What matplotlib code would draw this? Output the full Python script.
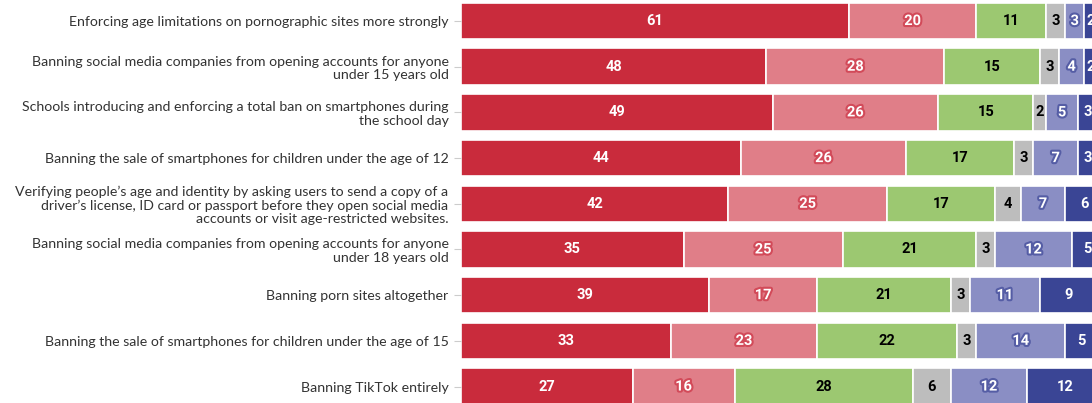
import numpy as np
import matplotlib.pyplot as plt
import matplotlib.patheffects as pe

# data
labels = [
    "Enforcing age limitations on pornographic sites more strongly",
    "Banning social media companies from opening accounts for anyone\nunder 15 years old",
    "Schools introducing and enforcing a total ban on smartphones during\nthe school day",
    "Banning the sale of smartphones for children under the age of 12",
    "Verifying people\u2019s age and identity by asking users to send a copy of a\ndriver\u2019s license, ID card or passport before they open social media\naccounts or visit age-restricted websites.",
    "Banning social media companies from opening accounts for anyone\nunder 18 years old",
    "Banning porn sites altogether",
    "Banning the sale of smartphones for children under the age of 15",
    "Banning TikTok entirely",
]
strongly_support = [61, 48, 49, 44, 42, 35, 39, 33, 27]
tend_support = [20, 28, 26, 26, 25, 25, 17, 23, 16]
neither = [11, 15, 15, 17, 17, 21, 21, 22, 28]
dont_know = [3, 3, 2, 3, 4, 3, 3, 3, 6]
tend_oppose = [3, 4, 5, 7, 7, 12, 11, 14, 12]
strongly_oppose = [2, 2, 3, 3, 6, 5, 9, 5, 12]

series = [strongly_support, tend_support, neither, dont_know, tend_oppose, strongly_oppose]
colors = ["#C92B3C", "#E07E88", "#9CC871", "#BDBDBD", "#8A8EC4", "#3A4595"]
txt_colors = ["white", "white", "black", "black", "white", "white"]
outlines = [None, "#D24A59", None, None, "#555DA5", None]

fig = plt.figure(figsize=(10.92, 4.03), dpi=100)
ax = fig.add_axes([461 / 1092, 0, 1 - 461 / 1092, 1])

y = np.arange(len(labels))
left = np.zeros(len(labels))
for vals, c, tc, ol in zip(series, colors, txt_colors, outlines):
    vals = np.array(vals)
    ax.barh(y, vals, left=left, height=0.8, color=c, edgecolor="white", linewidth=1.2)
    for yi, l, v in zip(y, left, vals):
        t = ax.text(l + v / 2, yi, str(v), ha="center", va="center", color=tc,
                    fontsize=10.5, fontweight="bold", family="Roboto")
        if ol:
            t.set_path_effects([pe.withStroke(linewidth=3, foreground=ol)])
    left += vals

ax.set_xlim(0, 99.2)
ax.set_ylim(8.36, -0.46)
ax.set_yticks(y)
ax.set_yticklabels(labels, fontsize=10.2, color="#333333", family="Lato", linespacing=1.15)
ax.tick_params(axis="y", length=5, color="#CCCCCC", pad=4)
ax.set_xticks([])
for s in ax.spines.values():
    s.set_visible(False)

fig.savefig("out.png", dpi=100)
